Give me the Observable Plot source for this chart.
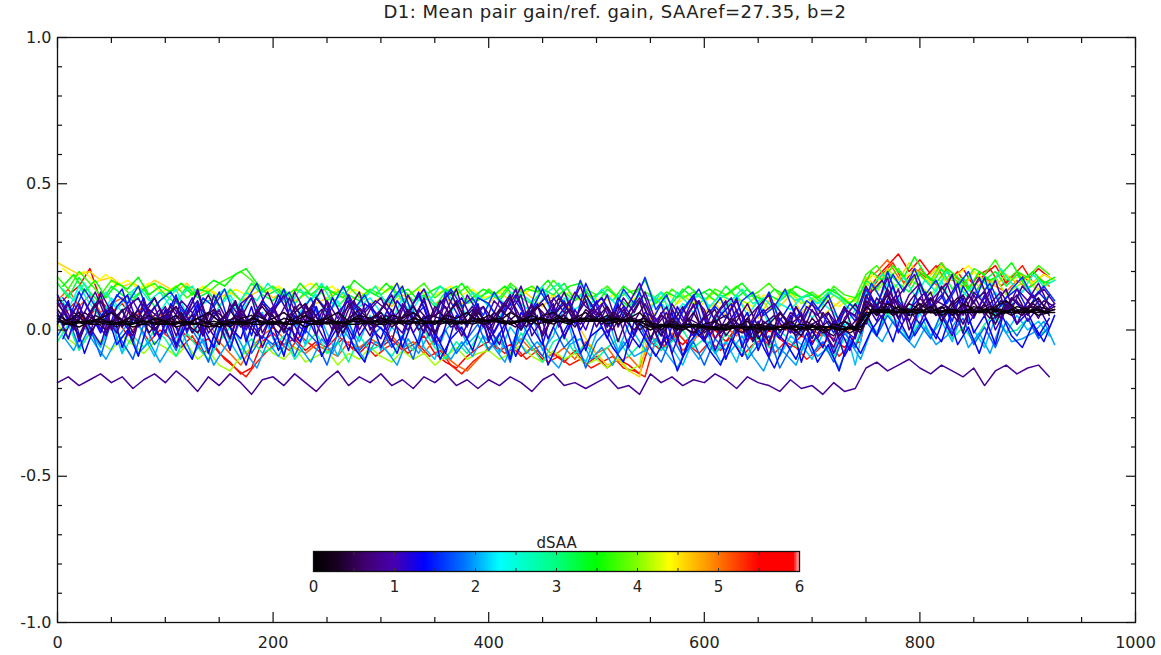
<!DOCTYPE html>
<html><head><meta charset="utf-8">
<script src="https://cdn.jsdelivr.net/npm/d3@7"></script>
<script src="https://cdn.jsdelivr.net/npm/@observablehq/plot@0.6"></script>
<style>
body{margin:0;background:#fff;font-family:"DejaVu Sans",sans-serif;}
#wrap{position:relative;width:1161px;height:655px;overflow:hidden;}
#title{position:absolute;top:1px;left:615px;transform:translateX(-50%);font-size:18px;letter-spacing:0.5px;line-height:22px;white-space:nowrap;color:#222;}
#chart{position:absolute;left:0;top:0;}
#cbar{position:absolute;left:303px;top:525px;}
</style></head>
<body><div id="wrap"><div id="chart"></div><div id="cbar"></div><div id="title"></div></div>
<script>
const titleText = "D1: Mean pair gain/ref. gain, SAAref=27.35, b=2";
const xTicks = [0, 200, 400, 600, 800, 1000];
const xMinor = [50, 100, 150, 250, 300, 350, 450, 500, 550, 650, 700, 750, 850, 900, 950];
const yTicks = [-1, -0.5, 0, 0.5, 1];
const yMinor = [-0.9, -0.8, -0.7, -0.6, -0.4, -0.3, -0.2, -0.1, 0.1, 0.2, 0.3, 0.4, 0.6, 0.7, 0.8, 0.9];
const cbTicks = [0, 1, 2, 3, 4, 5, 6];
const cbMinor = [0.5, 1, 1.5, 2, 2.5, 3, 3.5, 4, 4.5, 5, 5.5];
const colorStops = [0, 0.3, 0.65, 1.0, 1.37, 1.85, 2.3, 3.0, 3.5, 4.0, 4.4, 4.9, 5.5, 5.93, 6];
const colorRange = ["#000000", "#1a0022", "#400070", "#4800b0", "#0000ff", "#0070ff", "#00ffff", "#00ff80", "#00ff00", "#80ff00", "#ffff00", "#ff9000", "#ff0000", "#ff0000", "#ffb0b0"];
const sampleStep = 10; // x spacing of the read-off samples

// dSAA of each curve
const dSAA = [5.7, 5.1, 4.6, 4.1, 3.7, 3.3, 2.9, 2.5, 2.1, 1.8, 1.5, 1.3, 1.1, 0.95, 0.8, 0.65, 0.5, 0.3, 0.15, 0.05, 0.85,
              1.2, 1.4, 0.9, 0.7, 0.55, 0.4, 0.25, 0.1, 1.6, 2.0, 2.7, 3.5, 4.4, 5.4];
// x of the first sample of each curve
const xStart = [0, 0, 0, 0, 0, 0, 0, 0, 0, 0, 0, 0, 0, 0, 0, 0, 0, 0, 0, 0, 0,
                5, 5, 5, 5, 5, 5, 5, 5, 5, 5, 5, 5, 5, 5];
// values in hundredths, one per 10 x-units
const curves = [
"8 12 15 21 10 6 9 4 7 3 | 5 1 -2 -5 -3 -8 -11 -15 -13 -4 | -1 -5 -3 -7 -4 -6 -2 -5 -8 -4 | -6 -3 -7 -5 -2 -8 -11 -13 -9 -6 | -4 -7 -5 -9 -6 -10 -8 -11 -7 -12 | -9 -13 -10 -12 -15 -4 -7 -2 -5 -1 | -3 0 -4 1 -2 -5 0 -3 -6 -2 | -4 -1 -3 -6 -2 12 18 22 26 20 | 24 19 23 17 21 15 19 22 16 20 | 17 21 18",
"10 14 8 12 6 9 11 5 8 4 | 6 2 5 -1 3 -4 -8 -12 -6 -2 | 1 -3 -6 -8 -5 -7 -9 -4 -6 -3 | -5 -2 -6 -4 -8 -3 -9 -12 -14 -10 | -6 -4 -8 -3 -7 -5 -9 -6 -10 -4 | -8 -6 -11 -9 -13 -2 -5 -1 -7 -4 | 2 -3 1 -2 4 0 -4 2 -1 3 | 0 -2 3 -1 1 17 20 24 18 15 | 21 17 14 19 16 12 18 15 13 17 | 14 18 15",
"23 21 19 20 17 18 15 16 14 17 | 15 13 16 12 14 11 13 10 12 14 | 11 13 10 12 9 11 14 10 12 9 | 11 8 12 10 13 9 11 8 10 12 | 9 13 10 14 11 8 12 10 4 -3 | -8 -12 -10 -14 -16 4 8 3 7 10 | 6 9 5 11 7 4 10 8 12 6 | 9 5 8 11 7 18 15 21 17 23 | 19 16 22 18 14 20 17 15 19 16 | 18 14 17",
"2 -3 -6 -1 -4 -7 -2 -5 -8 -4 | -6 -9 -5 -10 -7 -12 -14 -9 -6 -4 | -8 -10 -6 -11 -9 -7 -12 -8 -10 -6 | -9 -11 -7 -10 -8 -12 -9 -6 -10 -8 | -7 -10 -8 -5 -9 -11 -7 -10 -8 -12 | -10 -13 -9 -14 -12 8 11 7 12 9 | 10 13 8 11 9 12 7 10 13 9 | 11 8 12 9 10 16 13 18 14 17 | 15 12 17 19 13 16 14 18 12 15 | 17 13 16",
"18 14 20 16 12 17 15 11 14 16 | 12 15 11 14 13 16 18 20 17 13 | 15 11 14 12 16 10 13 15 11 14 | 12 15 10 13 16 11 14 12 15 10 | 14 11 16 13 15 12 17 13 10 14 | 12 15 11 13 14 12 9 14 11 13 | 10 14 12 15 11 13 16 12 14 11 | 13 10 15 12 11 19 22 17 21 16 | 20 17 23 18 15 21 19 24 17 20 | 18 22 19",
"16 11 18 13 9 15 12 10 14 8 | 12 9 15 11 13 8 14 10 16 12 | 10 14 9 13 11 15 8 12 10 13 | 11 9 14 10 12 8 13 15 9 11 | 13 10 15 11 9 14 12 16 10 13 | 9 14 11 8 12 10 13 9 14 11 | 13 10 15 11 14 9 12 10 13 11 | 12 9 14 10 8 17 14 20 16 13 | 19 15 21 14 18 12 17 20 15 19 | 14 17 16",
"-4 2 -7 -1 -5 3 -8 -2 -6 0 | -3 -9 -1 -6 -10 -4 1 -7 -3 -8 | -6 -2 -10 -5 -1 -8 -4 -11 -2 -7 | -5 -9 -3 -7 0 -6 -10 -4 -8 -2 | -7 -3 -9 -1 -6 -11 -4 -2 -8 -5 | -10 -6 -3 -9 -5 -2 -7 -4 0 -6 | -3 -8 -1 -5 -9 -2 -6 0 -4 -7 | -2 -6 -9 -3 -5 4 -1 6 0 -3 | 3 -2 5 -3 1 -4 2 6 -1 0 | 4 -2 1",
"12 7 15 9 4 11 6 13 8 3 | 9 14 5 10 2 8 12 6 11 4 | 7 13 3 9 12 5 10 1 8 11 | 6 3 11 7 14 9 2 10 5 12 | 8 4 13 9 6 15 3 11 7 10 | 5 12 8 2 10 7 13 4 9 6 | 11 3 8 12 5 10 2 9 7 11 | 4 9 6 1 7 13 9 16 11 7 | 14 10 17 8 12 15 9 13 6 11 | 15 8 12",
"5 -3 8 0 -6 3 -8 6 -2 -9 | 2 -5 7 -1 -8 4 -4 -10 1 6 | -3 -8 3 -5 8 -1 -9 2 -4 5 | -7 1 -3 7 -6 -10 0 4 -5 -1 | 3 -8 1 -4 6 -7 -2 8 -6 -11 | -1 5 -7 2 -4 -9 1 -6 -12 -3 | 2 -8 -4 -11 1 -6 3 -9 -2 -5 | -10 -1 -7 2 -12 5 -1 8 2 -3 | 6 -2 3 -4 7 0 -6 4 -1 5 | 0 3 -2",
"-2 4 -6 1 -9 3 -4 -10 2 -5 | 0 -7 3 -3 -11 1 -6 4 -8 -2 | -5 2 -9 0 -4 -12 -1 3 -7 -3 | 1 -6 -2 -10 4 -5 0 -8 -3 2 | -7 -1 -11 3 -4 -9 1 -6 -2 -13 | -4 0 -8 -3 2 -6 -11 -2 -9 -4 | -12 -3 -7 1 -10 -5 -2 -13 -6 0 | -8 -4 -11 -1 -6 3 -2 5 0 -4 | 2 -3 6 -1 4 -5 1 -6 3 -2 | 4 -3 1",
"10 3 13 6 0 9 14 2 7 11 | 4 12 -1 8 5 13 1 9 -2 10 | 6 14 3 -1 11 7 0 12 5 9 | 2 10 15 4 8 -2 13 6 1 11 | 9 3 12 0 7 14 5 10 2 16 | 8 1 11 6 13 2 9 -3 7 12 | 0 8 4 11 -2 6 13 3 9 1 | 10 5 -1 8 3 14 7 20 10 5 | 16 8 12 3 15 9 18 6 11 14 | 7 13 9",
"3 10 -4 6 -1 8 -6 4 11 -2 | 7 -5 2 9 -8 4 1 -3 8 -6 | 2 -9 5 0 8 -4 3 -7 6 1 | -3 7 -6 4 10 -1 -8 5 2 9 | -4 3 -10 6 1 -5 8 -2 4 -7 | 5 -3 9 -1 -6 3 -5 6 -9 1 | -4 4 -10 0 6 -7 2 -3 5 -11 | 0 -6 3 -9 -2 6 -2 10 4 -3 | 8 1 -4 7 11 -1 5 -5 9 2 | 6 -2 4",
"6 -3 8 1 -5 7 3 -2 9 0 | 4 -6 5 10 -1 3 -7 6 2 -3 | 7 0 -4 9 2 -5 6 10 -2 4 | -6 3 8 -1 5 -4 11 2 -3 7 | 1 -5 6 12 -2 4 9 -3 7 0 | 10 -1 5 -6 3 -4 6 -8 2 -2 | 5 -7 1 7 -4 3 -9 4 -1 6 | -5 2 -8 0 -3 9 3 13 -1 7 | 2 11 5 -2 9 4 12 0 7 10 | 3 8 1",
"12 4 9 -2 13 6 1 10 3 8 | -1 11 5 14 2 7 -3 9 12 4 | 8 1 13 6 -2 10 4 12 0 7 | 11 3 -1 9 14 5 8 0 12 6 | 2 10 7 15 4 -1 11 6 13 8 | 5 12 1 9 16 6 -2 9 3 11 | 7 -3 4 10 0 8 12 -1 6 3 | 9 2 -4 7 5 15 8 18 4 12 | 16 7 11 19 5 13 9 17 6 14 | 10 16 8",
"2 9 -3 5 12 0 7 -4 10 3 | 8 -2 6 13 1 -5 9 4 11 -1 | 6 12 -3 8 2 10 -2 7 13 0 | 5 -4 9 3 11 -1 6 14 2 8 | -3 7 12 1 9 -2 5 13 4 10 | 1 8 -4 6 11 3 -6 7 1 9 | -3 5 10 -1 4 8 -5 6 2 -2 | 7 0 -6 4 9 2 11 6 14 0 | 8 13 3 10 -1 12 5 9 14 2 | 10 4 12",
"9 4 -2 6 10 2 7 -1 5 11 | 3 8 0 6 12 4 -3 7 2 9 | 5 -1 8 3 11 6 0 9 4 -2 | 7 12 3 6 -1 8 4 10 2 7 | 0 6 11 4 8 -2 5 9 3 12 | 6 1 8 4 10 -3 5 2 8 -1 | 4 7 -2 3 9 1 -4 6 2 5 | -3 6 1 8 -2 12 5 14 8 3 | 11 6 15 9 2 10 13 4 8 12 | 5 10 7",
"7 2 5 -1 4 8 1 6 3 0 | 5 8 2 -1 6 3 7 1 4 8 | 3 0 6 9 2 5 -1 4 7 3 | 6 1 4 8 2 -1 5 9 3 6 | 2 7 4 0 6 9 3 5 1 7 | 4 8 2 6 0 3 -2 4 1 6 | -1 3 5 0 4 -3 2 6 1 -2 | 4 0 -2 3 1 10 6 12 4 9 | 7 11 3 8 12 5 9 2 10 6 | 8 11 5",
"5 3 6 2 4 6 3 5 2 4 | 3 5 2 4 6 3 1 4 5 2 | 4 6 3 5 2 4 6 3 5 4 | 2 5 4 6 3 2 5 4 6 3 | 5 3 6 4 2 5 6 3 4 6 | 3 5 2 4 6 2 0 3 1 -1 | 2 3 0 1 3 -1 2 1 3 0 | 2 -1 1 3 0 8 5 9 7 6 | 9 6 8 5 9 7 6 8 10 7 | 6 8 7",
"4 2 1 3 4 2 3 1 2 4 | 3 1 2 4 2 1 3 2 4 3 | 2 4 3 1 3 4 2 3 4 2 | 4 3 2 4 3 2 4 3 2 4 | 3 4 2 3 5 3 2 4 3 3 | 4 2 3 4 2 0 2 1 0 2 | 1 0 2 1 0 2 1 0 1 2 | 1 0 2 1 0 5 7 6 8 5 | 6 8 5 7 6 8 7 5 6 8 | 7 5 6",
"3 2 3 2 2 3 2 2 3 2 | 2 2 3 2 1 2 2 3 2 2 | 3 2 2 3 3 2 3 2 2 3 | 3 2 3 3 2 3 3 2 3 3 | 3 3 2 3 3 4 3 3 3 4 | 3 3 4 3 3 1 1 2 1 1 | 1 1 0 1 1 1 0 1 1 1 | 0 1 1 0 1 6 6 7 6 6 | 7 6 6 7 6 6 7 7 6 6 | 6 7 6",
"-18 -16 -19 -17 -15 -18 -16 -20 -17 -15 | -18 -14 -17 -21 -16 -19 -15 -18 -22 -17 | -16 -19 -15 -18 -21 -17 -14 -19 -16 -18 | -15 -19 -17 -20 -16 -18 -15 -19 -17 -20 | -17 -19 -16 -18 -21 -17 -15 -19 -18 -20 | -18 -16 -20 -19 -22 -15 -18 -16 -19 -17 | -18 -15 -17 -20 -16 -18 -19 -21 -17 -20 | -19 -22 -18 -21 -20 -13 -11 -14 -12 -10 | -13 -15 -12 -14 -16 -13 -19 -14 -12 -15 | -13 -12 -16",
"7 0 10 3 -2 8 12 1 5 -3 | 9 4 11 -1 6 2 10 -4 7 3 | 12 5 -2 8 1 11 4 -3 9 6 | 0 10 5 13 2 -4 7 11 3 8 | -1 6 12 4 9 -3 5 10 0 7 | 11 3 8 -2 6 4 -5 8 1 10 | -2 5 9 -6 3 7 0 -4 8 2 | -3 6 1 -7 4 11 6 15 3 9 | 13 5 10 16 2 8 14 4 11 7 | 12 6 9",
"-3 5 -8 2 7 -5 0 -9 4 -2 | 6 -4 -10 1 -6 5 -3 -12 0 3 | -7 1 -4 6 -9 -2 4 -6 -11 2 | -1 -8 3 -5 5 -10 -3 1 -7 4 | -5 2 -9 -1 5 -12 -4 3 -8 -2 | 1 -6 -11 3 -3 -9 -2 -14 -5 0 | -7 -12 -3 -9 2 -6 -13 -4 -10 -1 | -11 -5 -14 -2 -8 0 5 -4 8 -2 | 4 -3 7 -5 1 -8 3 6 -2 -6 | 2 -4 5",
"9 2 6 13 4 -1 8 11 3 7 | 1 10 6 -2 12 5 9 0 7 13 | 4 11 2 8 14 3 -1 9 6 10 | 7 2 12 5 -2 9 13 4 8 1 | 10 6 14 3 8 12 1 7 15 5 | 9 2 11 6 13 3 8 -2 6 10 | 1 7 11 2 -3 6 9 4 -1 8 | 5 10 0 6 3 13 17 9 14 19 | 8 12 16 6 11 18 9 13 7 15 | 11 14 9",
"1 6 3 9 -1 5 8 2 7 4 | 8 2 5 -2 7 4 10 1 6 3 | -1 5 9 3 7 0 6 10 2 5 | 9 4 0 7 3 10 5 -2 6 8 | 3 9 5 1 8 4 11 6 2 7 | 5 0 7 3 9 1 6 -3 4 2 | 7 -1 3 6 -4 2 5 0 8 1 | 3 6 -2 1 5 9 4 11 7 12 | 5 10 8 3 12 7 9 4 11 8 | 6 10 8",
"4 1 6 3 0 5 2 7 -1 4 | 2 6 -1 4 7 1 5 3 -2 6 | 3 0 5 7 2 4 -1 6 3 1 | 5 2 7 0 4 6 1 3 7 2 | 6 3 1 5 8 2 4 7 3 5 | 2 6 4 0 5 -1 3 0 4 -2 | 2 -1 4 1 -3 3 0 2 -2 3 | 0 3 -2 2 -1 7 10 5 8 6 | 9 5 7 11 6 8 4 10 7 5 | 9 6 8",
"3 4 2 5 3 1 4 3 5 2 | 4 2 3 5 1 3 4 2 5 3 | 2 3 5 4 2 3 1 4 3 5 | 3 4 2 3 5 4 3 2 4 3 | 4 2 5 3 4 3 5 2 4 4 | 3 5 3 4 2 1 2 0 2 1 | 0 2 1 -1 2 1 0 2 1 0 | 2 0 1 -1 1 6 8 5 7 7 | 6 7 8 5 7 6 8 7 5 7 | 8 6 7",
"2 3 2 3 3 2 2 3 3 2 | 3 2 2 3 2 3 2 2 3 2 | 2 3 3 2 3 2 3 3 2 3 | 3 3 2 3 3 2 3 3 3 2 | 3 3 3 4 2 3 4 3 3 3 | 4 3 3 3 4 1 2 1 1 2 | 1 1 1 2 0 1 1 1 0 1 | 1 1 0 1 1 6 7 6 6 7 | 6 6 7 6 7 6 6 7 6 7 | 6 6 7",
"2 2 3 3 2 2 3 2 2 3 | 2 3 2 2 3 2 3 2 3 2 | 3 2 3 2 2 3 2 3 3 2 | 2 3 3 2 3 3 2 3 2 3 | 3 2 3 3 4 3 3 2 4 3 | 3 4 3 3 3 2 1 1 2 1 | 1 0 1 1 1 0 1 1 0 1 | 1 1 0 1 0 7 6 6 7 6 | 6 7 6 6 7 6 7 6 7 6 | 7 6 6",
"11 6 14 8 3 12 9 15 5 10 | 13 7 2 11 8 14 4 10 16 6 | 9 13 5 11 2 8 15 7 12 4 | 10 16 6 12 3 9 14 8 11 5 | 13 7 10 4 15 9 12 6 17 8 | 11 5 14 9 18 7 12 3 9 14 | 6 11 2 10 13 5 8 14 4 10 | 7 12 3 9 5 16 10 19 13 21 | 12 17 9 15 20 11 16 8 14 18 | 11 15 10",
"-2 -7 1 -5 -10 -3 2 -8 -4 -11 | -5 0 -9 -3 -12 -6 -1 -8 -13 -4 | -9 -2 -6 -11 -3 -8 0 -5 -10 -4 | -7 -12 -3 -8 -1 -6 -10 -4 -9 -2 | -6 -11 -2 -8 -4 -9 -13 -5 -3 -10 | -6 -12 -4 -9 -7 -3 -8 -13 -5 -10 | -4 -11 -7 -2 -9 -14 -5 -8 -12 -3 | -9 -6 -13 -4 -10 0 -4 3 -2 -6 | 1 -5 -2 4 -6 -1 -8 2 -4 -3 | -1 3 -5",
"14 10 16 9 13 7 12 15 10 13 | 8 12 15 9 11 14 7 13 10 16 | 12 8 14 10 16 9 13 7 11 15 | 9 13 7 12 10 15 11 8 13 10 | 12 9 14 11 8 13 16 10 12 9 | 14 10 13 8 12 11 7 13 9 12 | 8 12 10 14 9 11 7 13 10 12 | 9 13 11 7 10 15 19 14 18 12 | 17 13 20 15 11 18 14 21 16 13 | 19 15 17",
"15 19 13 17 11 16 14 18 12 15 | 13 16 12 14 17 15 19 21 16 12 | 14 10 16 12 15 13 11 17 14 12 | 16 12 14 10 13 15 12 16 11 14 | 12 15 11 14 13 17 12 15 16 11 | 13 10 15 12 17 9 13 11 15 12 | 14 11 13 16 12 10 14 12 15 13 | 11 14 12 9 13 20 17 22 18 25 | 19 16 21 18 14 20 17 19 23 17 | 20 16 18",
"21 18 20 16 19 15 17 14 16 13 | 14 16 12 15 13 11 14 12 16 13 | 15 12 14 16 13 15 11 14 12 15 | 13 16 12 14 11 13 15 12 14 11 | 12 14 10 13 15 12 11 13 10 12 | 9 12 8 11 7 10 13 9 12 8 | 11 9 13 10 8 12 10 14 11 9 | 12 10 8 11 9 19 16 22 18 20 | 17 21 16 19 22 18 15 20 17 19 | 16 19 17",
"5 9 3 7 1 4 -2 2 -4 0 | -3 -6 -2 -8 -5 -10 -13 -16 -11 -7 | -4 -7 -2 -5 -8 -6 -3 -7 -5 -9 | -6 -4 -8 -5 -9 -7 -12 -15 -11 -8 | -5 -8 -6 -10 -7 -11 -9 -12 -10 -13 | -11 -9 -13 -14 -16 -3 -6 -1 -5 -8 | -4 -7 -2 -9 -5 -3 -8 -4 -6 -10 | -7 -3 -9 -5 -4 14 19 23 16 21 | 18 22 16 20 14 19 21 15 18 22 | 16 19 17"
];

const parse = s => s.split(/\s+/).filter(t => t && t !== "|").map(t => +t / 100);
// draw curves with large dSAA first so the dark ones lie on top
const order = d3.range(curves.length).sort((a, b) => dSAA[b] - dSAA[a]);
const rows = [];
order.forEach(k => {
  parse(curves[k]).forEach((v, i) => rows.push({id: k, x: xStart[k] + i * sampleStep, y: v, d: dSAA[k]}));
});

const color = {type: "linear", domain: colorStops, range: colorRange, interpolate: "rgb"};
const fmtY = d => d.toFixed(1);
const axisStyle = {stroke: "#111", strokeWidth: 1.2};

const chart = Plot.plot({
  width: 1161, height: 655,
  marginLeft: 57, marginRight: 26, marginTop: 37, marginBottom: 33,
  x: {domain: [0, 1000]},
  y: {domain: [-1, 1]},
  color,
  style: {fontFamily: "DejaVu Sans, sans-serif", fontSize: "16px", color: "#222", background: "white", overflow: "visible"},
  marks: [
    Plot.line(rows, {x: "x", y: "y", z: "id", stroke: "d", strokeWidth: 1.5}),
    Plot.frame({stroke: "#111", strokeWidth: 1.3}),
    Plot.axisX(xTicks, {anchor: "bottom", tickSize: -10, tickFormat: () => "", label: null, ...axisStyle}),
    Plot.axisX(xMinor, {anchor: "bottom", tickSize: -5, tickFormat: () => "", label: null, ...axisStyle}),
    Plot.axisX(xTicks, {anchor: "top", tickSize: -10, tickFormat: () => "", label: null, ...axisStyle}),
    Plot.axisX(xMinor, {anchor: "top", tickSize: -5, tickFormat: () => "", label: null, ...axisStyle}),
    Plot.axisY(yTicks, {anchor: "left", tickSize: -10, tickFormat: () => "", label: null, ...axisStyle}),
    Plot.axisY(yMinor, {anchor: "left", tickSize: -5, tickFormat: () => "", label: null, ...axisStyle}),
    Plot.axisY(yTicks, {anchor: "right", tickSize: -10, tickFormat: () => "", label: null, ...axisStyle}),
    Plot.axisY(yMinor, {anchor: "right", tickSize: -5, tickFormat: () => "", label: null, ...axisStyle}),
    Plot.axisX(xTicks, {anchor: "bottom", tickSize: 0, tickPadding: 14, label: null, tickFormat: d => String(d), fill: "#222"}),
    Plot.axisY(yTicks, {anchor: "left", tickSize: 0, tickPadding: 6, label: null, tickFormat: fmtY, fill: "#222"})
  ]
});
document.getElementById("chart").append(chart);

const cbStep = 0.02;
const cells = d3.range(0, 6, cbStep);
const cbar = Plot.plot({
  width: 506, height: 71,
  marginLeft: 10, marginRight: 10, marginTop: 26, marginBottom: 25,
  x: {domain: [0, 6]},
  y: {domain: [0, 1], axis: null},
  color,
  style: {fontFamily: "DejaVu Sans, sans-serif", fontSize: "15px", color: "#222", background: "transparent", overflow: "visible"},
  marks: [
    Plot.rect(cells, {x1: d => d, x2: d => Math.min(6, d + cbStep * 1.6), y1: 0, y2: 1, fill: d => d + cbStep / 2}),
    Plot.frame({stroke: "#111", strokeWidth: 1.3}),
    Plot.axisX(cbMinor, {anchor: "bottom", tickSize: -3, tickFormat: () => "", label: null, stroke: "#333"}),
    Plot.axisX(cbMinor, {anchor: "top", tickSize: -3, tickFormat: () => "", label: null, stroke: "#333"}),
    Plot.axisX(cbTicks, {anchor: "bottom", tickSize: 0, tickPadding: 10, label: null, tickFormat: d => String(d), fill: "#222"}),
    Plot.text(["dSAA"], {frameAnchor: "top", dy: -14, fontSize: 15, fill: "#222"})
  ]
});
document.getElementById("cbar").append(cbar);
document.getElementById("title").textContent = titleText;
</script>
</body></html>
